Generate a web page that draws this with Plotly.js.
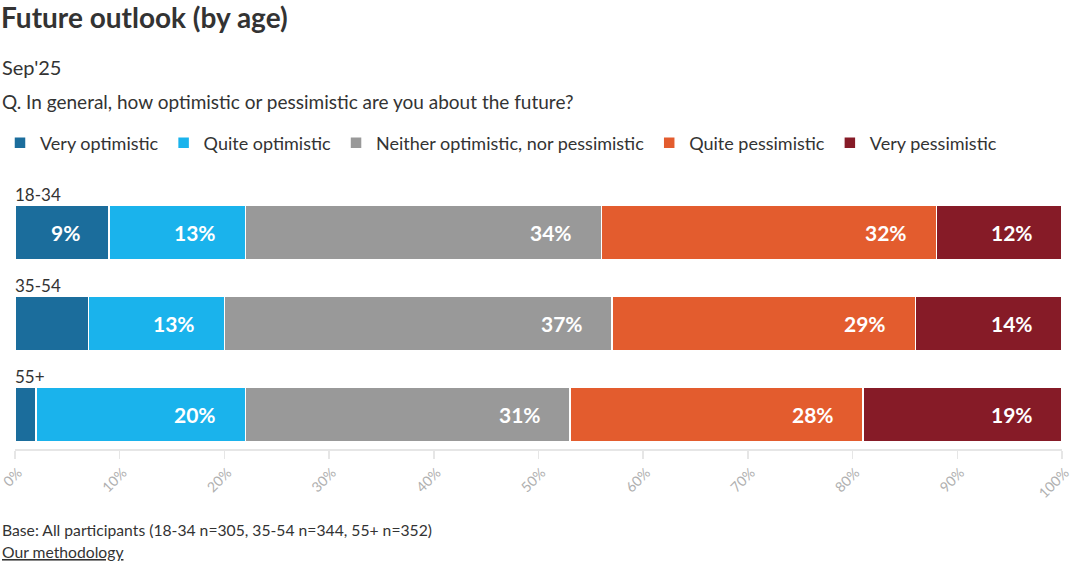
<!DOCTYPE html>
<html>
<head>
<meta charset="utf-8">
<script src="https://cdn.plot.ly/plotly-3.0.1.min.js"></script>
<style>html,body{margin:0;padding:0;background:#fff;}#chart{width:1075px;height:565px;}</style>
</head>
<body>
<div id="chart"></div>
<script>
const categories = ["18-34", "35-54", "55+"];
const seriesNames = ["Very optimistic", "Quite optimistic", "Neither optimistic, nor pessimistic", "Quite pessimistic", "Very pessimistic"];
const veryOptimistic = [9, 7, 2];
const quiteOptimistic = [13, 13, 20];
const neither = [34, 37, 31];
const quitePessimistic = [32, 29, 28];
const veryPessimistic = [12, 14, 19];
const tickVals = [0, 10, 20, 30, 40, 50, 60, 70, 80, 90, 100];
const tickText = ["0%", "10%", "20%", "30%", "40%", "50%", "60%", "70%", "80%", "90%", "100%"];

const colors = ["#1b6d9c", "#1ab3ec", "#999999", "#e35c2e", "#861b27"];
const series = [veryOptimistic, quiteOptimistic, neither, quitePessimistic, veryPessimistic];
const FONT = "Lato, 'Source Sans Pro', sans-serif";

const traces = series.map((vals, i) => ({
  type: "bar",
  orientation: "h",
  name: seriesNames[i],
  x: vals,
  y: categories,
  width: 0.604,
  marker: { color: colors[i], line: { color: "#ffffff", width: 1.5 } },
  hoverinfo: "none"
}));

// paper y from pixel y (plot area: top 187, bottom 449)
const py = p => (449 - p) / 262;

const annotations = [];
const cum = categories.map(() => 0);
series.forEach((vals, i) => {
  vals.forEach((v, j) => {
    cum[j] += v;
    if (v >= 8) {
      annotations.push({
        x: cum[j], y: categories[j], xref: "x", yref: "y",
        text: "<b>" + v + "%</b>", showarrow: false,
        xanchor: "right", xshift: -27,
        font: { family: FONT, size: 21, color: "#ffffff" }
      });
    }
  });
});
categories.forEach(c => {
  annotations.push({
    x: 0, y: c, xref: "x", yref: "y", text: c, showarrow: false,
    xanchor: "left", yanchor: "middle", yshift: 38.5, xshift: -2,
    font: { family: FONT, size: 17, color: "#333333" }
  });
});
annotations.push(
  { xref: "paper", yref: "paper", x: 0, xshift: -15, y: py(67), yanchor: "middle", xanchor: "left", showarrow: false,
    text: "Sep'25", font: { family: FONT, size: 20, color: "#333333" } },
  { xref: "paper", yref: "paper", x: 0, xshift: -15, y: py(101), yanchor: "middle", xanchor: "left", showarrow: false,
    text: "Q. In general, how optimistic or pessimistic are you about the future?", font: { family: FONT, size: 19, color: "#333333" } },
  { xref: "paper", yref: "paper", x: 0, xshift: -15, y: py(530), yanchor: "middle", xanchor: "left", showarrow: false,
    text: "Base: All participants (18-34 n=305, 35-54 n=344, 55+ n=352)", font: { family: FONT, size: 15.7, color: "#333333" } },
  { xref: "paper", yref: "paper", x: 0, xshift: -15, y: py(552), yanchor: "middle", xanchor: "left", showarrow: false,
    text: "<u>Our methodology</u>", font: { family: FONT, size: 15.7, color: "#333333" } }
);

const layout = {
  width: 1075, height: 565,
  margin: { l: 15, r: 13, t: 187, b: 116 },
  paper_bgcolor: "#ffffff", plot_bgcolor: "#ffffff",
  barmode: "stack",
  font: { family: FONT, color: "#333333" },
  title: {
    text: "<b>Future outlook (by age)</b>",
    x: 0, xref: "container", xanchor: "left",
    y: 1 - 18/565, yref: "container", yanchor: "middle",
    pad: { l: 1 },
    font: { family: FONT, size: 28, color: "#333333" }
  },
  showlegend: true,
  legend: {
    orientation: "h", x: 0, xref: "container", xanchor: "left",
    y: 1 - 143/565, yref: "container", yanchor: "middle",
    font: { family: FONT, size: 18, color: "#333333" },
    traceorder: "normal", itemwidth: 30, itemclick: false, itemdoubleclick: false,
    tracegroupgap: 0, bgcolor: "rgba(0,0,0,0)"
  },
  xaxis: {
    range: [0, 100], tickvals: tickVals, ticktext: tickText,
    tickangle: -45, ticks: "outside", ticklen: 8, tickcolor: "#e6e6e6", tickwidth: 1.5,
    showline: true, linecolor: "#e6e6e6", linewidth: 2,
    showgrid: false, zeroline: false, fixedrange: true, automargin: false,
    ticklabeloverflow: "allow", ticklabelshift: 3,
    tickfont: { family: FONT, size: 14, color: "#b0b0b0" }
  },
  yaxis: {
    type: "category", range: [2.379, -0.5], showticklabels: false,
    showgrid: false, zeroline: false, showline: false, ticks: "", fixedrange: true
  },
  annotations: annotations
};

Plotly.newPlot("chart", traces, layout, { displayModeBar: false, staticPlot: true });
</script>
</body>
</html>
